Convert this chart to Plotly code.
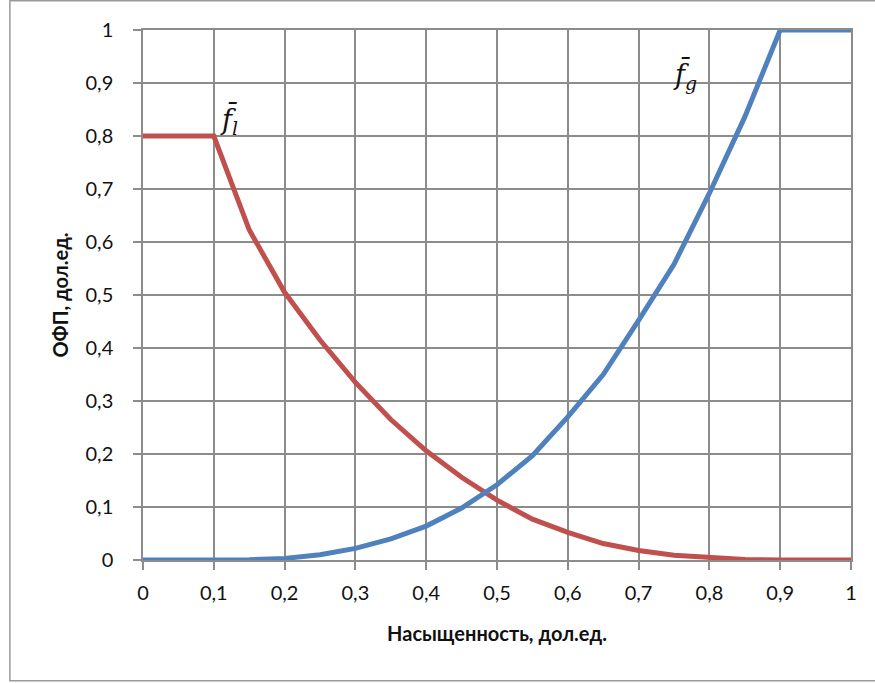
import plotly.graph_objects as go

# Saturation grid (fraction of unit)
saturation = [0.0, 0.05, 0.1, 0.15, 0.2, 0.25, 0.3, 0.35, 0.4, 0.45, 0.5,
              0.55, 0.6, 0.65, 0.7, 0.75, 0.8, 0.85, 0.9, 0.95, 1.0]

# Relative permeability of liquid phase
f_liquid = [0.8, 0.8, 0.8, 0.623, 0.505, 0.415, 0.335, 0.265, 0.206, 0.156, 0.113,
            0.077, 0.052, 0.031, 0.018, 0.009, 0.004, 0.001, 0.0, 0.0, 0.0]

# Relative permeability of gas phase
f_gas = [0.0, 0.0, 0.0, 0.0005, 0.003, 0.01, 0.022, 0.04, 0.064, 0.098, 0.142,
         0.197, 0.27, 0.35, 0.452, 0.558, 0.692, 0.836, 1.0, 1.0, 1.0]

tick_vals = [0, 0.1, 0.2, 0.3, 0.4, 0.5, 0.6, 0.7, 0.8, 0.9, 1]
tick_text = ["0", "0,1", "0,2", "0,3", "0,4", "0,5", "0,6", "0,7", "0,8", "0,9", "1"]

RED = "#C0504D"
BLUE = "#4F81BD"
GRID = "#8c8c8c"
FONT = "Lato, 'Open Sans', sans-serif"

fig = go.Figure()
fig.add_trace(go.Scatter(x=saturation, y=f_liquid, mode="lines",
                         line=dict(color=RED, width=5), showlegend=False,
                         hoverinfo="skip"))
fig.add_trace(go.Scatter(x=saturation, y=f_gas, mode="lines",
                         line=dict(color=BLUE, width=5), showlegend=False,
                         hoverinfo="skip"))

axis_common = dict(
    range=[0, 1], tickvals=tick_vals, ticktext=tick_text,
    showgrid=True, gridcolor=GRID, gridwidth=1.5,
    showline=True, linecolor=GRID, linewidth=1.5,
    ticks="outside", ticklen=8, tickcolor=GRID, tickwidth=1.5,
    zeroline=False, tickfont=dict(family=FONT, size=20, color="#111"),
    fixedrange=True, mirror=True,
)

fig.update_xaxes(**axis_common, ticklabelstandoff=6,
                 title=dict(text="<b>Насыщенность, дол.ед.</b>",
                            font=dict(family=FONT, size=20, color="#111"),
                            standoff=24))
fig.update_yaxes(**axis_common, ticklabelstandoff=16,
                 title=dict(text="<b>ОФП, дол.ед.</b>",
                            font=dict(family=FONT, size=20, color="#111"),
                            standoff=12))

# Curve labels
fig.add_annotation(x=0.121, y=0.83, xref="x", yref="y", showarrow=False,
                   text="<i>f̄<sub>l</sub></i>",
                   font=dict(family="'DejaVu Serif', serif", size=27, color="#111"))
fig.add_annotation(x=0.766, y=0.915, xref="x", yref="y", showarrow=False,
                   text="<i>f̄<sub>g</sub></i>",
                   font=dict(family="'DejaVu Serif', serif", size=27, color="#111"))

# Outer chart frame
fig.add_shape(type="rect", xref="paper", yref="paper",
              x0=-0.188, x1=1.2, y0=-0.228, y1=1.055,
              line=dict(color="#9a9a9a", width=1.5), layer="below")

fig.update_layout(
    width=875, height=683,
    margin=dict(l=143, r=24, t=30, b=123),
    paper_bgcolor="white", plot_bgcolor="white",
)

fig.write_html("out.html")
